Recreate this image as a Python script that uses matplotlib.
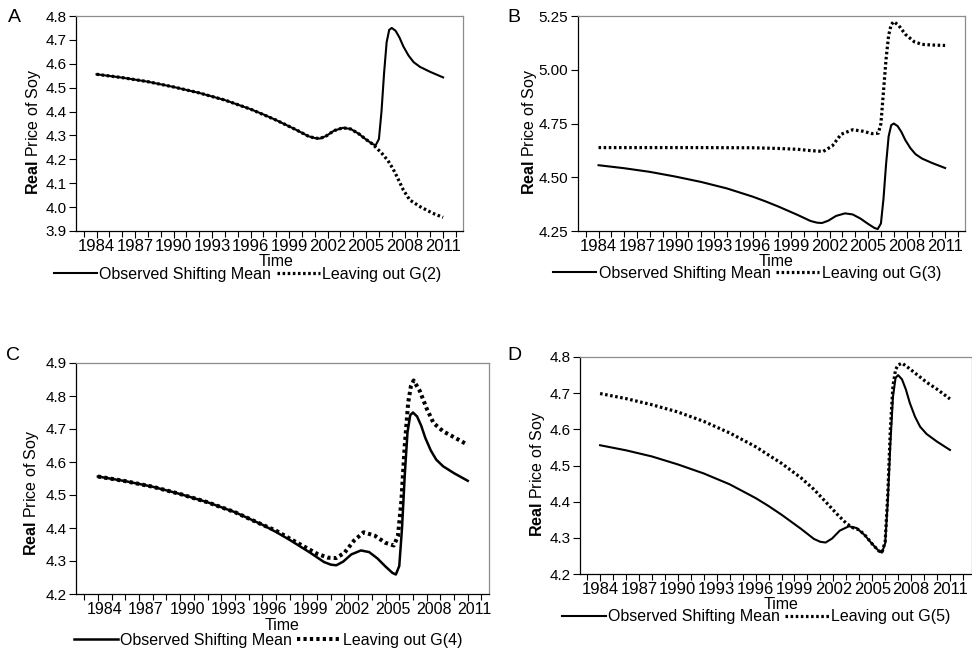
import matplotlib
matplotlib.use('Agg')
import matplotlib.pyplot as plt
import matplotlib.transforms as mtransforms
import numpy as np

plt.rcParams['font.family'] = ['Liberation Sans', 'DejaVu Sans']
plt.rcParams['mathtext.fontset'] = 'custom'
plt.rcParams['mathtext.rm'] = 'Liberation Sans'
plt.rcParams['mathtext.bf'] = 'Liberation Sans:bold'

# Observed shifting mean (same in all four panels)
obs_years = [1984, 1986, 1988, 1990, 1992, 1994, 1996, 1997, 1998, 1999.5, 2000.5, 2001.0,
             2001.4, 2001.9, 2002.5, 2003.2, 2003.8, 2004.4, 2005.0, 2005.5, 2005.75,
             2006.0, 2006.2, 2006.4, 2006.6, 2006.8, 2007.0, 2007.3, 2007.6, 2007.9,
             2008.3, 2008.7, 2009.2, 2010.0, 2011.0]
obs_vals = [4.556, 4.542, 4.525, 4.503, 4.478, 4.448, 4.410, 4.388, 4.364, 4.325, 4.297, 4.289,
            4.287, 4.298, 4.320, 4.332, 4.327, 4.308, 4.283, 4.264, 4.259,
            4.285, 4.400, 4.560, 4.690, 4.742, 4.750, 4.738, 4.710, 4.673,
            4.635, 4.607, 4.587, 4.566, 4.543]

# Leaving out G(2)
g2_years = [1984, 1986, 1988, 1990, 1992, 1994, 1996, 1998, 1999.5, 2000.5, 2001.0, 2001.4,
            2001.9, 2002.5, 2003.2, 2003.8, 2004.4, 2005.0, 2005.5, 2005.8, 2006.2, 2006.7,
            2007.1, 2007.4, 2007.9, 2008.4, 2009.2, 2010.2, 2011.0]
g2_vals = [4.556, 4.542, 4.525, 4.503, 4.478, 4.448, 4.410, 4.364, 4.325, 4.297, 4.289, 4.287,
           4.298, 4.320, 4.332, 4.327, 4.308, 4.283, 4.264, 4.248, 4.227, 4.195,
           4.160, 4.128, 4.072, 4.030, 4.002, 3.974, 3.957]

# Leaving out G(3)
g3_years = [1984, 1988, 1992, 1996, 1998, 1999.5, 2000.5, 2001.5, 2002.2, 2002.9, 2003.8,
            2004.6, 2005.3, 2005.8, 2006.0, 2006.2, 2006.4, 2006.6, 2006.8, 2007.0, 2007.4,
            2007.9, 2008.6, 2009.2, 2010.0, 2011.0]
g3_vals = [4.638, 4.638, 4.638, 4.637, 4.634, 4.630, 4.624, 4.620, 4.645, 4.700, 4.721,
           4.714, 4.703, 4.705, 4.750, 4.900, 5.050, 5.160, 5.210, 5.224, 5.205,
           5.165, 5.130, 5.118, 5.115, 5.113]

# Leaving out G(4)
g4_years = [1984, 1986, 1988, 1990, 1992, 1994, 1996, 1997, 1998, 1999, 2000, 2000.8, 2001.4,
            2002.0, 2002.7, 2003.4, 2004.2, 2005.0, 2005.6, 2005.9, 2006.15, 2006.4, 2006.65,
            2006.85, 2007.05, 2007.5, 2008.0, 2008.5, 2009.2, 2010.0, 2011.0]
g4_vals = [4.556, 4.542, 4.525, 4.503, 4.478, 4.448, 4.410, 4.392, 4.368, 4.345, 4.322, 4.310, 4.309,
           4.325, 4.362, 4.387, 4.377, 4.355, 4.347, 4.375, 4.480, 4.650, 4.780,
           4.830, 4.847, 4.815, 4.762, 4.718, 4.693, 4.675, 4.652]

# Leaving out G(5)
g5_years = [1984, 1986, 1988, 1990, 1992, 1994, 1996, 1998, 1999.5, 2000.5, 2001.5, 2002.3,
            2003.0, 2003.5, 2004.0, 2004.5, 2005.0, 2005.5, 2005.75, 2006.0, 2006.2, 2006.4,
            2006.6, 2006.8, 2007.0, 2007.3, 2007.8, 2008.5, 2009.2, 2010.0, 2011.0]
g5_vals = [4.699, 4.685, 4.668, 4.648, 4.622, 4.590, 4.552, 4.506, 4.466, 4.434, 4.396, 4.365,
           4.340, 4.328, 4.322, 4.305, 4.283, 4.264, 4.259, 4.290, 4.420, 4.600,
           4.720, 4.765, 4.778, 4.783, 4.770, 4.750, 4.730, 4.711, 4.684]

year_labels = list(range(1984, 2012, 3))
all_years = list(range(1983, 2013))

W, H = 972, 652
fig = plt.figure(figsize=(W / 100, H / 100), dpi=100)


def add_axes_px(left, right, top, bottom):
    return fig.add_axes([left / W, 1 - bottom / H, (right - left) / W, (bottom - top) / H])


def style_panel(ax, p):
    ax.set_xlim(*p['xlim'])
    ax.set_ylim(*p['ylim'])
    ax.set_yticks(p['yticks'])
    ax.set_yticklabels([p['yfmt'] % v for v in p['yticks']])
    ax.set_xticks(year_labels)
    ax.set_xticklabels([str(y) for y in year_labels])
    ax.set_xticks(all_years, minor=True)
    ax.tick_params(axis='both', which='both', direction='out', length=5, width=0.8, pad=2)
    ax.tick_params(axis='y', labelsize=11)
    ax.tick_params(axis='x', labelsize=p['xfs'], pad=1)
    ax.tick_params(axis='x', which='minor', length=4)
    if p['shift']:
        off = mtransforms.ScaledTranslation(p['shift'] / 100, 0, fig.dpi_scale_trans)
        for lab in ax.get_xticklabels():
            lab.set_transform(lab.get_transform() + off)
    for s in ['top', 'right']:
        ax.spines[s].set_color('#8c8c8c')
    for s in ax.spines.values():
        s.set_linewidth(0.9)
    ax.set_xlabel('Time', fontsize=11.5)
    ax.xaxis.set_label_coords(*p['xl'])
    ax.set_ylabel(r'$\mathbf{Real}$ Price of Soy', fontsize=11.5)
    ax.yaxis.set_label_coords(*p['yl'])
    lx, ly = p['letter_xy']
    fig.text(lx / W, 1 - ly / H, p['letter'], fontsize=14, ha='center', va='center')
    ax.legend(loc='center', bbox_to_anchor=p['leg'], ncol=2, frameon=False, fontsize=11.5,
              handlelength=2.7, handletextpad=0.15, columnspacing=0.35, borderpad=0,
              borderaxespad=0)


panels = [
    dict(box=(76, 463, 16, 231), series=(g2_years, g2_vals), name='Leaving out G(2)',
         xlim=(1982.4, 2012.55), ylim=(3.9, 4.8),
         yticks=np.round(np.arange(3.9, 4.81, 0.1), 2), yfmt='%.1f',
         letter='A', letter_xy=(14, 17), xl=(0.517, -0.105), yl=(-0.085, 0.46),
         leg=(0.443, -0.2), lw=(1.5, 2.3), shift=0, xfs=12),
    dict(box=(578, 965, 16, 231), series=(g3_years, g3_vals), name='Leaving out G(3)',
         xlim=(1982.4, 2012.55), ylim=(4.25, 5.25),
         yticks=[4.25, 4.50, 4.75, 5.00, 5.25], yfmt='%.2f',
         letter='B', letter_xy=(514, 17), xl=(0.512, -0.105), yl=(-0.1, 0.46),
         leg=(0.437, -0.197), lw=(1.5, 2.3), shift=0, xfs=12),
    dict(box=(76, 489, 363, 594), series=(g4_years, g4_vals), name='Leaving out G(4)',
         xlim=(1982.4, 2012.55), ylim=(4.2, 4.9),
         yticks=np.round(np.arange(4.2, 4.91, 0.1), 2), yfmt='%.1f',
         letter='C', letter_xy=(13, 355), xl=(0.50, -0.105), yl=(-0.085, 0.44),
         leg=(0.466, -0.2), lw=(1.8, 2.9), shift=7, xfs=11.5),
    dict(box=(580, 972, 357, 574), series=(g5_years, g5_vals), name='Leaving out G(5)',
         xlim=(1982.45, 2012.7), ylim=(4.2, 4.8),
         yticks=np.round(np.arange(4.2, 4.81, 0.1), 2), yfmt='%.1f',
         letter='D', letter_xy=(514, 355), xl=(0.513, -0.105), yl=(-0.085, 0.46),
         leg=(0.45, -0.198), lw=(1.5, 2.3), shift=0, xfs=12),
]

for p in panels:
    ax = add_axes_px(*p['box'])
    ax.plot(obs_years, obs_vals, color='black', lw=p['lw'][0], label='Observed Shifting Mean')
    ax.plot(p['series'][0], p['series'][1], color='black', lw=p['lw'][1],
            linestyle=(0, (0.8, 0.8)), label=p['name'])
    style_panel(ax, p)

fig.savefig('out.png', dpi=100)
